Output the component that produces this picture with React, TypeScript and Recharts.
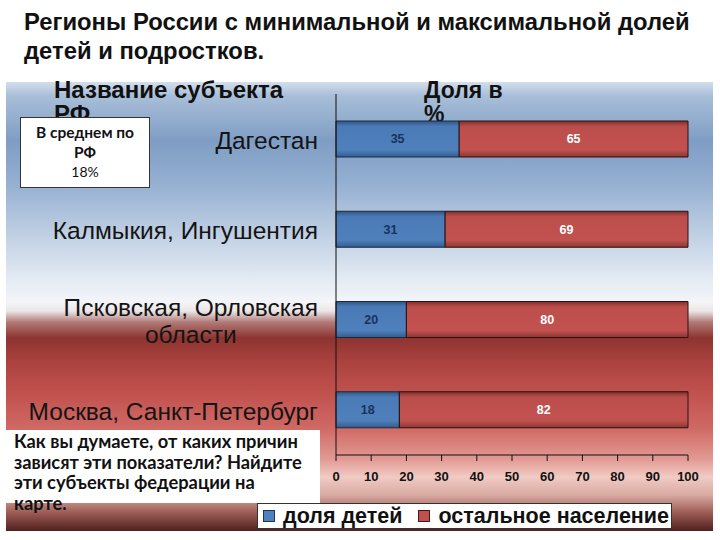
import React from 'react';
import { BarChart, Bar, XAxis, YAxis, LabelList, Legend } from 'recharts';

const regions = ['Дагестан', 'Калмыкия, Ингушентия', 'Псковская, Орловская\nобласти', 'Москва, Санкт-Петербург'];
const childShare = [35, 31, 20, 18];
const otherShare = [65, 69, 80, 82];
const xTicks = [0, 10, 20, 30, 40, 50, 60, 70, 80, 90, 100];
const seriesNames = ['доля детей', 'остальное население'];
const titleLines = ['Регионы России с минимальной и максимальной долей', 'детей и подростков.'];
const avgLines = ['В среднем по', 'РФ', '18%'];
const questionLines = ['Как вы думаете, от каких причин', 'зависят эти показатели? Найдите', 'эти субъекты федерации на', 'карте.'];

const data = regions.map((r, i) => ({ region: r, kids: childShare[i], rest: otherShare[i] }));

const SANS = '"Liberation Sans", Arial, sans-serif';
const CAL = 'Lato, "Open Sans", sans-serif';

let ctx: CanvasRenderingContext2D | null = null;
function measure(text: string, font: string): number {
  if (!ctx) {
    const c = document.createElement('canvas');
    ctx = c.getContext('2d');
  }
  if (!ctx) return text.length * 12;
  ctx.font = font;
  return ctx.measureText(text).width;
}

const CategoryTick = (props: any) => {
  const { x, y, payload } = props;
  const lines = String(payload.value).split('\n');
  const fontSize = 24.5;
  const font = `${fontSize}px "Liberation Sans"`;
  const maxW = Math.max(...lines.map((l) => measure(l, font)));
  const cx = x - maxW / 2;
  const lh = 27;
  const first = y + 10 - ((lines.length - 1) * lh) / 2;
  return (
    <text textAnchor="middle" fontFamily={SANS} fontSize={fontSize} fill="#141414">
      {lines.map((l, i) => (
        <tspan key={i} x={cx} y={first + i * lh}>{l}</tspan>
      ))}
    </text>
  );
};

const LegendBox = () => (
  <div style={{
    width: 415, height: 26, background: '#fff', border: '1px solid #333',
    display: 'flex', alignItems: 'center', fontFamily: SANS, fontWeight: 'bold', fontSize: 21.5, color: '#111',
    boxSizing: 'border-box', paddingLeft: 5, whiteSpace: 'nowrap'
  }}>
    <span style={{ display: 'inline-block', width: 10, height: 10, background: '#4f81bd', border: '1px solid #1d3557', marginRight: 8 }} />
    <span style={{ marginRight: 16 }}>{seriesNames[0]}</span>
    <span style={{ display: 'inline-block', width: 10, height: 10, background: '#c0504d', border: '1px solid #4a1a18', marginRight: 8 }} />
    <span>{seriesNames[1]}</span>
  </div>
);

export default function App() {
  return (
    <div style={{ position: 'absolute', left: 0, top: 0, width: 720, height: 540, background: '#fff', overflow: 'hidden' }}>
      {/* title */}
      <div style={{ position: 'absolute', left: 24, top: 7, fontFamily: SANS, fontWeight: 'bold', fontSize: 23.8, lineHeight: '29px', color: '#111', whiteSpace: 'nowrap' }}>
        {titleLines.map((t, i) => <div key={i}>{t}</div>)}
      </div>
      {/* background panel */}
      <div style={{
        position: 'absolute', left: 6, top: 82, width: 707, height: 449,
        background: 'linear-gradient(to bottom, #d4deeb 0%, #a9bfd9 3%, #7f9dc4 13%, #93aed0 22%, #bccde2 33%, #e3ebf4 44%, #f3f5f8 49%, #ece6e6 51%, #b07a77 53.5%, #8e3431 57%, #a9413e 62%, #c0514d 69%, #d06864 77%, #e29a93 84%, #f0cbc4 88%, #d8aaa2 92%, #9c5a54 96%, #4f201c 100%)'
      }} />
      {/* header labels (under bars) */}
      <div style={{ position: 'absolute', left: 54, top: 78, fontFamily: SANS, fontWeight: 'bold', fontSize: 24, lineHeight: '24px', color: '#111', width: 260 }}>
        <div>Название субъекта</div>
        <div>РФ</div>
      </div>
      <div style={{ position: 'absolute', left: 424, top: 78, fontFamily: SANS, fontWeight: 'bold', fontSize: 23, lineHeight: '24px', color: '#111' }}>
        <div>Доля в</div>
        <div>%</div>
      </div>
      <div style={{ position: 'absolute', left: 0, top: 0 }}>
        <BarChart width={720} height={540} layout="vertical" data={data}
          margin={{ top: 94, right: 32, bottom: 55, left: 6 }} barSize={36}>
          <defs>
            <linearGradient id="gBlue" x1="0" y1="0" x2="0" y2="1">
              <stop offset="0%" stopColor="#2f5585" />
              <stop offset="15%" stopColor="#4a7bb7" />
              <stop offset="80%" stopColor="#4f80bc" />
              <stop offset="100%" stopColor="#335d92" />
            </linearGradient>
            <linearGradient id="gRed" x1="0" y1="0" x2="0" y2="1">
              <stop offset="0%" stopColor="#7e2f2d" />
              <stop offset="15%" stopColor="#bb4e4b" />
              <stop offset="80%" stopColor="#c2524f" />
              <stop offset="100%" stopColor="#8c3734" />
            </linearGradient>
          </defs>
          <XAxis type="number" domain={[0, 100]} ticks={xTicks} interval={0} height={30}
            axisLine={{ stroke: '#111' }} tickLine={{ stroke: '#111' }} tickSize={6} tickMargin={11}
            tick={{ fill: '#111', fontSize: 13, fontWeight: 'bold', fontFamily: SANS }} />
          <YAxis type="category" dataKey="region" width={330} axisLine={{ stroke: '#111' }}
            tickLine={false} tickSize={0} tickMargin={18} tick={<CategoryTick />} interval={0} />
          <Legend verticalAlign="middle" align="center" layout="horizontal"
            wrapperStyle={{ position: 'absolute', left: 257, top: 503, width: 415, height: 26 }}
            content={() => <LegendBox />} />
          <Bar dataKey="kids" name={seriesNames[0]} stackId="a" fill="url(#gBlue)" stroke="#1c2a3a" strokeWidth={1} isAnimationActive={false}>
            <LabelList dataKey="kids" position="center" fill="#17325c" fontSize={12.5} fontWeight="bold" fontFamily={SANS} />
          </Bar>
          <Bar dataKey="rest" name={seriesNames[1]} stackId="a" fill="url(#gRed)" stroke="#2a1010" strokeWidth={1} isAnimationActive={false}>
            <LabelList dataKey="rest" position="center" fill="#ffffff" fontSize={12.5} fontWeight="bold" fontFamily={SANS} />
          </Bar>
        </BarChart>
      </div>
      {/* average box */}
      <div style={{
        position: 'absolute', left: 20, top: 117, width: 130, height: 71, background: '#fff', border: '1px solid #333',
        boxSizing: 'border-box', fontFamily: CAL, color: '#111', textAlign: 'center', paddingTop: 4, lineHeight: '20px'
      }}>
        <div style={{ fontWeight: 'bold', fontSize: 15.5 }}>{avgLines[0]}</div>
        <div style={{ fontWeight: 'bold', fontSize: 15.5 }}>{avgLines[1]}</div>
        <div style={{ fontSize: 14 }}>{avgLines[2]}</div>
      </div>
      {/* question box */}
      <div style={{ position: 'absolute', left: 6, top: 430, width: 314, height: 73, background: '#fff' }} />
      <div style={{
        position: 'absolute', left: 14, top: 431, fontFamily: CAL, fontWeight: 'bold', fontSize: 18.3, lineHeight: '20.5px', color: '#111', whiteSpace: 'nowrap'
      }}>
        {questionLines.map((t, i) => <div key={i}>{t}</div>)}
      </div>
    </div>
  );
}
